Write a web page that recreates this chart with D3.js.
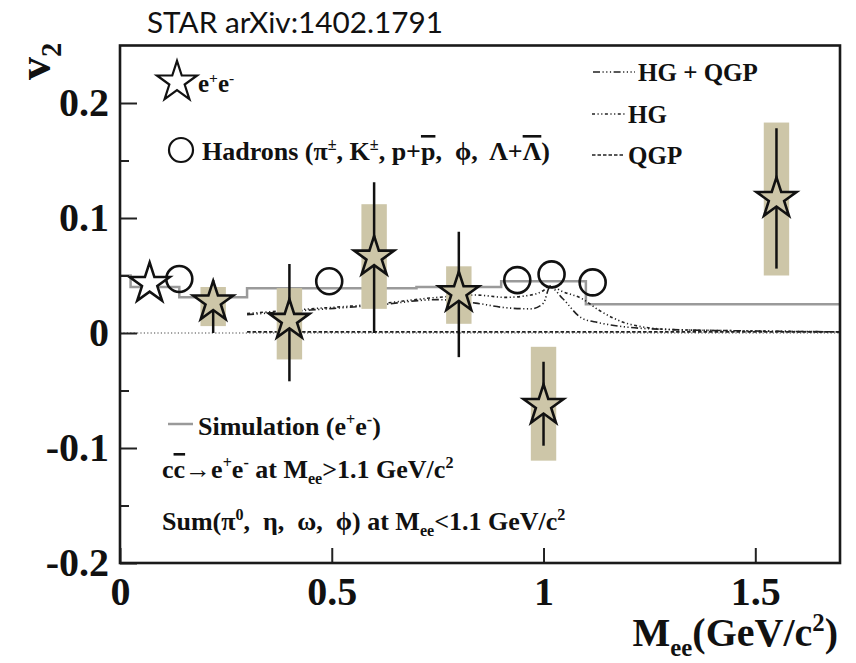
<!DOCTYPE html>
<html>
<head>
<meta charset="utf-8">
<script src="https://cdn.jsdelivr.net/npm/d3@7"></script>
<style>
  body { margin: 0; background: #fff; }
  text { font-family: "Liberation Serif", "Times New Roman", serif; font-weight: bold; fill: #111; white-space: pre; }
</style>
</head>
<body>
<script>
const w = 856;
const h = 663;

// e+e- v2 points (STAR)
const eeMass = [0.07, 0.22, 0.40, 0.60, 0.80, 1.00, 1.55];
const eeV2 = [0.043, 0.027, 0.011, 0.066, 0.035, -0.063, 0.117];
const eeStatHi = [null, 0.046, 0.060, 0.131, 0.088, -0.025, 0.178];
const eeStatLo = [null, 0.000, -0.042, 0.000, -0.021, -0.098, 0.056];
const eeSysHi = [null, 0.040, 0.039, 0.112, 0.058, -0.012, 0.183];
const eeSysLo = [null, 0.006, -0.023, 0.021, 0.008, -0.111, 0.050];

// hadron v2 (open circles)
const hadronMass = [0.14, 0.494, 0.938, 1.019, 1.116];
const hadronV2 = [0.047, 0.045, 0.046, 0.051, 0.044];

// simulation histogram: bin edges and contents
const simEdges = [0, 0.025, 0.14, 0.30, 0.70, 0.90, 1.10, 1.70];
const simV2 = [0.050, 0.040, 0.031, 0.039, 0.040, 0.045, 0.025];

// model curves
const modelMass = [0.30, 0.45, 0.60, 0.75, 0.84, 0.91, 0.97, 1.00, 1.015, 1.045, 1.09, 1.13, 1.20, 1.30, 1.45, 1.70];
const hgV2 = [0.017, 0.021, 0.025, 0.031, 0.033, 0.031, 0.033, 0.037, 0.041, 0.036, 0.030, 0.020, 0.008, 0.003, 0.002, 0.001];
const hgQgpV2 = [0.016, 0.020, 0.024, 0.029, 0.026, 0.022, 0.021, 0.026, 0.040, 0.030, 0.013, 0.009, 0.005, 0.003, 0.002, 0.001];
const qgpMass = [0.30, 0.70, 1.10, 1.70];
const qgpV2 = [0.001, 0.001, 0.001, 0.001];

const xTicks = [0, 0.5, 1, 1.5];
const yTicks = [-0.2, -0.1, 0, 0.1, 0.2];
const yMinor = [-0.15, -0.05, 0.05, 0.15];

const boxColor = '#cdc6a8';

const svg = d3.select('body').append('svg').attr('width', w).attr('height', h);

const x = d3.scaleLinear().domain([0, 1.7]).range([120, 840]);
const y = d3.scaleLinear().domain([-0.2, 0.25]).range([563, 45.5]);

// little helper for super/subscripts and overlines
function rich(sel, px, py, parts, size, anchor) {
  const t = sel.append('text').attr('x', px).attr('y', py)
    .style('font-size', size + 'px').attr('text-anchor', anchor || 'start');
  let shift = 0;
  parts.forEach(p => {
    const str = typeof p === 'string' ? p : p[0];
    const kind = typeof p === 'string' ? null : p[1];
    const target = kind === 'sup' ? -0.38 * size : kind === 'sub' ? 0.24 * size : 0;
    const ts = t.append('tspan').attr('dy', target - shift).text(str);
    shift = target;
    if (kind === 'sup' || kind === 'sub') ts.style('font-size', (0.62 * size) + 'px');
    if (kind === 'over') ts.style('text-decoration', 'overline');
  });
  return t;
}

svg.append('defs').append('clipPath').attr('id', 'clip')
  .append('rect').attr('x', 120).attr('y', 45.5).attr('width', 720).attr('height', 517.5);

const plot = svg.append('g').attr('clip-path', 'url(#clip)');

// zero line
plot.append('line')
  .attr('x1', x(0)).attr('x2', x(1.7)).attr('y1', y(0)).attr('y2', y(0))
  .attr('stroke', '#444').attr('stroke-width', 1.2).attr('stroke-dasharray', '1.2,2.2');

// simulation step histogram
const simPts = [];
simV2.forEach((v, i) => { simPts.push([simEdges[i], v]); simPts.push([simEdges[i + 1], v]); });
plot.append('path')
  .attr('d', d3.line().x(d => x(d[0])).y(d => y(d[1]))(simPts))
  .attr('fill', 'none').attr('stroke', '#9a9a9a').attr('stroke-width', 2.5);

// models
const modelLine = d3.line().curve(d3.curveMonotoneX).x(d => x(d[0])).y(d => y(d[1]));
plot.append('path')
  .attr('d', modelLine(d3.zip(qgpMass, qgpV2)))
  .attr('fill', 'none').attr('stroke', '#222').attr('stroke-width', 1.6).attr('stroke-dasharray', '3.5,2');
plot.append('path')
  .attr('d', modelLine(d3.zip(modelMass, hgV2)))
  .attr('fill', 'none').attr('stroke', '#222').attr('stroke-width', 1.6).attr('stroke-dasharray', '3,2.5,1.2,2.5,1.2,2.5');
plot.append('path')
  .attr('d', modelLine(d3.zip(modelMass, hgQgpV2)))
  .attr('fill', 'none').attr('stroke', '#222').attr('stroke-width', 1.6).attr('stroke-dasharray', '7,2.5,1.2,2.5,1.2,2.5,1.2,2.5');

// hadron circles
plot.selectAll('.hadron').data(d3.zip(hadronMass, hadronV2)).enter()
  .append('circle').attr('class', 'hadron')
  .attr('cx', d => x(d[0])).attr('cy', d => y(d[1])).attr('r', 13)
  .attr('fill', 'none').attr('stroke', '#111').attr('stroke-width', 2.6);

// e+e- points
const ee = eeMass.map((m, i) => ({ m, v: eeV2[i], sh: eeStatHi[i], sl: eeStatLo[i], yh: eeSysHi[i], yl: eeSysLo[i] }));
const boxHalf = 0.03;
plot.selectAll('.sys').data(ee.filter(d => d.yh !== null)).enter()
  .append('rect').attr('class', 'sys')
  .attr('x', d => x(d.m - boxHalf)).attr('width', d => x(d.m + boxHalf) - x(d.m - boxHalf))
  .attr('y', d => y(d.yh)).attr('height', d => y(d.yl) - y(d.yh))
  .attr('fill', boxColor);
plot.selectAll('.stat').data(ee.filter(d => d.sh !== null)).enter()
  .append('line').attr('class', 'stat')
  .attr('x1', d => x(d.m)).attr('x2', d => x(d.m))
  .attr('y1', d => y(d.sh)).attr('y2', d => y(d.sl))
  .attr('stroke', '#111').attr('stroke-width', 2.5);
const star = d3.symbol().type(d3.symbolStar).size(500);
plot.selectAll('.star').data(ee).enter()
  .append('path').attr('class', 'star')
  .attr('d', star)
  .attr('transform', d => `translate(${x(d.m)},${y(d.v)})`)
  .attr('fill', d => d.yh === null ? '#fff' : boxColor)
  .attr('stroke', '#111').attr('stroke-width', 2.6).attr('stroke-linejoin', 'miter');

// axes
const fmt = d => d === 0 ? '0' : (d < 0 ? '-' : '') + d3.format('.1f')(Math.abs(d));
const yAxis = d3.axisLeft(y).tickValues(yTicks).tickSizeInner(-17).tickSizeOuter(0).tickPadding(11)
  .tickFormat(fmt);
const gy = svg.append('g').attr('transform', 'translate(120,0)').call(yAxis)
  .attr('font-family', '"Liberation Serif", serif');
gy.select('.domain').remove();
gy.selectAll('.tick line').attr('stroke', '#222').attr('stroke-width', 2);
gy.selectAll('.tick text').style('font-size', '40px').style('font-weight', 'bold').attr('fill', '#111');

const yMinorAxis = d3.axisLeft(y).tickValues(yMinor).tickSizeInner(-9).tickSizeOuter(0).tickFormat('');
const gym = svg.append('g').attr('transform', 'translate(120,0)').call(yMinorAxis);
gym.select('.domain').remove();
gym.selectAll('.tick line').attr('stroke', '#222').attr('stroke-width', 2);

const xAxis = d3.axisBottom(x).tickValues(xTicks).tickSizeInner(-15).tickSizeOuter(0).tickPadding(14)
  .tickFormat(d => d3.format('')(d));
const gx = svg.append('g').attr('transform', 'translate(0,563)').call(xAxis)
  .attr('font-family', '"Liberation Serif", serif');
gx.select('.domain').remove();
gx.selectAll('.tick line').attr('stroke', '#222').attr('stroke-width', 2);
gx.selectAll('.tick text').style('font-size', '40px').style('font-weight', 'bold').attr('fill', '#111');

// frame
svg.append('rect').attr('x', 120).attr('y', 45.5).attr('width', 720).attr('height', 517.5)
  .attr('fill', 'none').attr('stroke', '#1a1a1a').attr('stroke-width', 2.6);

// axis titles
rich(svg, 838, 646, ['M', ['ee', 'sub'], '(GeV/c', ['2', 'sup'], ')'], 40, 'end');
const vl = svg.append('g').attr('transform', 'translate(50,80) rotate(-90)');
rich(vl, 0, 0, ['v', ['2', 'sub']], 46);

// header
svg.append('text').attr('x', 147).attr('y', 33)
  .attr('textLength', 296).attr('lengthAdjust', 'spacingAndGlyphs')
  .style('font-family', 'Lato, "Open Sans", sans-serif').style('font-weight', 'normal')
  .style('font-size', '29px').text('STAR arXiv:1402.1791');

// legends
const lg = svg.append('g');
lg.append('path').attr('d', star).attr('transform', 'translate(177,82)')
  .attr('fill', '#fff').attr('stroke', '#111').attr('stroke-width', 2.2);
rich(lg, 198, 92, ['e', ['+', 'sup'], 'e', ['-', 'sup']], 25);
lg.append('circle').attr('cx', 181).attr('cy', 150).attr('r', 12)
  .attr('fill', 'none').attr('stroke', '#111').attr('stroke-width', 2.2);
rich(lg, 202, 160, ['Hadrons (π', ['±', 'sup'], ', K', ['±', 'sup'], ', p+', ['p', 'over'], ',  ϕ,  Λ+', ['Λ', 'over'], ')'], 26);

const legendLines = [
  { y: 72, x1: 593, x2: 635, dash: '7,2.5,1.2,2.5,1.2,2.5,1.2,2.5', label: 'HG + QGP', tx: 638 },
  { y: 114, x1: 592, x2: 625, dash: '3,2.5,1.2,2.5,1.2,2.5', label: 'HG', tx: 628 },
  { y: 155, x1: 592, x2: 625, dash: '3.5,2', label: 'QGP', tx: 628 }
];
legendLines.forEach(d => {
  lg.append('line').attr('x1', d.x1).attr('x2', d.x2).attr('y1', d.y).attr('y2', d.y)
    .attr('stroke', '#222').attr('stroke-width', 1.6).attr('stroke-dasharray', d.dash);
  lg.append('text').attr('x', d.tx).attr('y', d.y + 9).style('font-size', '25px').text(d.label);
});

lg.append('line').attr('x1', 168).attr('x2', 193).attr('y1', 424).attr('y2', 424)
  .attr('stroke', '#9a9a9a').attr('stroke-width', 2.5);
rich(lg, 198, 435, ['Simulation (e', ['+', 'sup'], 'e', ['-', 'sup'], ')'], 26);
rich(lg, 162, 478, ['c', ['c', 'over'], '→e', ['+', 'sup'], 'e', ['-', 'sup'], ' at M', ['ee', 'sub'], '>1.1 GeV/c', ['2', 'sup']], 26);
rich(lg, 162, 530, ['Sum(π', ['0', 'sup'], ',  η,  ω,  ϕ) at M', ['ee', 'sub'], '<1.1 GeV/c', ['2', 'sup']], 26);
</script>
</body>
</html>
